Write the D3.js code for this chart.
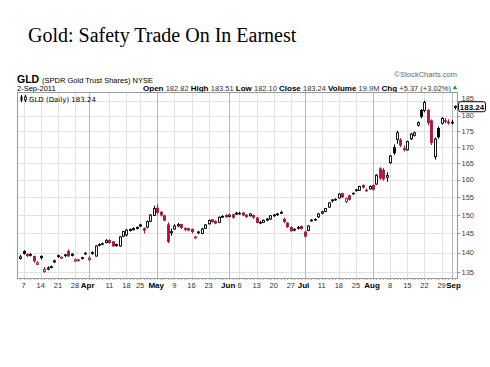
<!DOCTYPE html>
<html>
<head>
<meta charset="utf-8">
<script src="https://cdn.jsdelivr.net/npm/d3@7"></script>
<style>
  body { margin: 0; background: #fff; }
  svg { display: block; }
</style>
</head>
<body>
<div id="chart"></div>
<script>
// GLD daily candles, 4-Mar-2011 .. 2-Sep-2011
const dates = [
  '2011-03-04','2011-03-07','2011-03-08','2011-03-09','2011-03-10','2011-03-11','2011-03-14','2011-03-15','2011-03-16','2011-03-17',
  '2011-03-18','2011-03-21','2011-03-22','2011-03-23','2011-03-24','2011-03-25','2011-03-28','2011-03-29','2011-03-30','2011-03-31',
  '2011-04-01','2011-04-04','2011-04-05','2011-04-06','2011-04-07','2011-04-08','2011-04-11','2011-04-12','2011-04-13','2011-04-14',
  '2011-04-15','2011-04-18','2011-04-19','2011-04-20','2011-04-21','2011-04-25','2011-04-26','2011-04-27','2011-04-28','2011-04-29',
  '2011-05-02','2011-05-03','2011-05-04','2011-05-05','2011-05-06','2011-05-09','2011-05-10','2011-05-11','2011-05-12','2011-05-13',
  '2011-05-16','2011-05-17','2011-05-18','2011-05-19','2011-05-20','2011-05-23','2011-05-24','2011-05-25','2011-05-26','2011-05-27',
  '2011-05-31','2011-06-01','2011-06-02','2011-06-03','2011-06-06','2011-06-07','2011-06-08','2011-06-09','2011-06-10','2011-06-13',
  '2011-06-14','2011-06-15','2011-06-16','2011-06-17','2011-06-20','2011-06-21','2011-06-22','2011-06-23','2011-06-24','2011-06-27',
  '2011-06-28','2011-06-29','2011-06-30','2011-07-01','2011-07-05','2011-07-06','2011-07-07','2011-07-08','2011-07-11','2011-07-12',
  '2011-07-13','2011-07-14','2011-07-15','2011-07-18','2011-07-19','2011-07-20','2011-07-21','2011-07-22','2011-07-25','2011-07-26',
  '2011-07-27','2011-07-28','2011-07-29','2011-08-01','2011-08-02','2011-08-03','2011-08-04','2011-08-05','2011-08-08','2011-08-09',
  '2011-08-10','2011-08-11','2011-08-12','2011-08-15','2011-08-16','2011-08-17','2011-08-18','2011-08-19','2011-08-22','2011-08-23',
  '2011-08-24','2011-08-25','2011-08-26','2011-08-29','2011-08-30','2011-08-31','2011-09-01','2011-09-02'
]
const opens = [
  138.5,140.3,139.5,139.5,139.0,137.0,139.0,135.2,135.8,136.2,
  137.6,139.2,138.8,139.4,140.3,139.6,137.8,138.0,138.7,139.7,
  138.2,140.0,139.1,141.9,142.2,142.6,143.2,142.8,142.1,141.7,
  144.3,144.6,145.8,146.0,146.3,147.3,146.3,146.7,148.3,149.9,
  151.9,150.8,149.8,147.3,145.2,146.2,147.0,147.4,146.4,146.3,
  146.1,143.8,145.2,145.0,146.4,147.6,148.7,148.3,148.0,149.4,
  149.9,149.6,150.1,150.5,150.3,150.6,150.0,149.8,149.9,149.2,
  147.8,148.0,148.6,148.9,149.8,150.1,150.5,148.8,147.8,146.6,
  145.9,146.4,146.9,145.4,145.8,148.4,148.7,149.5,150.5,151.0,
  152.2,154.0,154.3,154.8,156.0,153.8,155.4,156.0,156.9,157.0,
  158.4,157.0,157.4,158.4,158.8,163.3,162.8,160.8,165.2,169.8,
  172.4,172.2,169.2,169.1,172.6,173.7,177.0,181.8,181.8,181.8,
  178.4,167.0,175.9,177.6,178.4,178.0,177.7,182.82
]
const highs = [
  139.4,140.6,139.8,139.9,139.2,137.8,139.3,136.3,136.5,136.7,
  138.2,139.5,139.0,139.6,140.8,139.8,138.5,138.4,138.9,140.2,
  139.1,140.3,141.9,142.4,142.6,143.5,143.4,143.0,142.3,144.3,
  145.7,146.2,146.3,146.7,146.9,147.6,146.6,148.5,150.3,152.6,
  153.0,151.0,150.0,148.0,146.3,147.5,147.8,147.6,146.6,146.5,
  146.3,144.4,145.7,146.5,147.5,148.8,148.9,148.5,149.6,150.0,
  150.2,150.3,150.3,150.9,150.9,150.7,150.2,150.5,150.1,149.4,
  148.4,148.8,149.2,150.0,150.3,150.6,151.2,149.3,148.0,146.9,
  146.4,147.0,147.1,145.6,147.2,148.9,149.1,150.6,151.2,152.0,
  153.6,154.5,154.7,156.2,156.3,154.9,155.7,156.4,157.4,158.3,
  158.7,157.5,158.4,158.6,161.7,163.8,163.6,162.3,167.6,170.8,
  175.2,172.8,170.5,172.0,174.5,174.9,178.2,182.3,185.1,182.4,
  178.8,173.0,176.5,179.6,179.3,178.9,178.7,183.51
]
const lows = [
  138.2,139.5,138.8,139.0,137.4,136.8,138.2,134.9,135.5,136.0,
  137.3,138.6,138.3,138.8,139.0,139.0,137.6,137.7,138.2,139.4,
  137.8,139.4,139.0,141.6,141.9,142.4,142.3,141.5,141.5,141.5,
  144.0,144.2,145.5,145.8,146.1,146.7,145.0,146.4,148.0,149.7,
  150.2,149.6,148.3,142.4,144.4,146.0,146.7,146.2,145.6,145.6,
  145.0,143.6,144.8,144.8,146.2,147.4,147.9,147.5,147.9,149.2,
  149.3,149.4,149.0,150.0,150.1,149.7,149.2,149.6,149.0,147.7,
  147.5,147.8,148.3,148.7,149.5,149.8,150.3,147.8,146.5,145.5,
  145.6,146.1,146.0,143.9,145.6,148.2,148.4,149.2,150.2,150.8,
  152.0,153.5,154.0,154.6,154.8,153.4,154.1,155.8,156.6,156.8,
  157.5,156.6,157.2,156.9,158.6,160.0,159.8,159.5,164.8,167.5,
  171.0,170.0,168.6,168.9,172.2,173.3,176.5,179.2,181.2,176.9,
  170.6,166.1,172.6,177.2,177.5,177.1,177.2,182.10
]
const closes = [
  138.9,139.8,139.2,139.3,137.9,137.4,138.7,135.7,136.1,136.4,
  137.9,139.0,138.6,139.3,139.1,139.3,138.2,138.1,138.5,139.8,
  138.6,139.8,141.7,142.1,142.3,143.1,142.6,141.7,141.8,144.1,
  145.5,145.9,146.1,146.3,146.6,147.0,145.9,148.2,150.0,151.8,
  150.7,150.0,148.6,142.9,145.5,147.0,147.4,146.6,146.1,145.9,
  145.5,144.1,145.4,146.2,147.3,148.5,148.2,147.8,149.4,149.6,
  149.5,150.0,149.4,150.3,150.5,150.0,149.6,150.3,149.4,148.0,
  148.0,148.5,148.9,149.8,150.0,150.3,150.7,148.2,146.8,145.7,
  146.1,146.6,146.3,144.3,147.0,148.6,148.8,150.3,150.9,151.8,
  153.4,154.2,154.4,155.9,155.1,154.6,154.4,156.1,157.1,158.1,
  157.9,156.9,158.1,157.3,161.4,160.6,160.3,161.3,167.2,168.2,
  174.5,170.6,169.5,171.7,174.1,174.5,177.8,179.8,184.5,177.8,
  171.4,172.5,173.2,179.2,178.2,177.7,177.87,183.24
]
const priceTicks = [135, 140, 145, 150, 155, 160, 165, 170, 175, 180, 185]
const monthNames = ['Jan','Feb','Mar','Apr','May','Jun','Jul','Aug','Sep','Oct','Nov','Dec']

const W = 490, H = 367
const plot = { left: 17, right: 457, top: 92, bottom: 278 }
const red = '#b3133f'

const parse = d3.timeParse('%Y-%m-%d')
const rows = dates.map((d, i) => ({
  key: d, date: parse(d), open: opens[i], high: highs[i], low: lows[i], close: closes[i]
}))
rows.forEach((r, i) => {
  const prev = i > 0 ? rows[i - 1].close : r.close
  r.color = r.close < prev ? red : '#000'
  r.hollow = r.close > r.open
})

const svg = d3.select('#chart').append('svg')
  .attr('width', W).attr('height', H)
  .attr('xmlns', 'http://www.w3.org/2000/svg')

const x = d3.scaleBand().domain(dates).range([plot.left + 1.5, plot.right])
const cx = d => x(d.key) + x.bandwidth() / 2
const y = d3.scaleLog().domain([133.6, 188.1]).range([plot.bottom, plot.top])

// title
svg.append('text')
  .attr('x', 28).attr('y', 42)
  .style('font-family', '"Liberation Serif", "Times New Roman", serif')
  .style('font-size', '20px')
  .text('Gold: Safety Trade On In Earnest')

// header
const sans = '"Liberation Sans", Arial, sans-serif'
const head = svg.append('text').attr('x', plot.left).attr('y', 82.5).style('font-family', sans)
head.append('tspan').style('font-size', '10.5px').style('font-weight', 'bold').text('GLD ')
head.append('tspan').style('font-size', '7.5px').text('(SPDR Gold Trust Shares) NYSE')

svg.append('text')
  .attr('x', plot.right).attr('y', 77).attr('text-anchor', 'end')
  .style('font-family', sans).style('font-size', '7.5px').style('fill', '#666')
  .text('\u00a9StockCharts.com')

svg.append('text')
  .attr('x', plot.left).attr('y', 90.5)
  .style('font-family', sans).style('font-size', '7.5px')
  .text('2-Sep-2011')

const last = rows[rows.length - 1]
const prevClose = rows[rows.length - 2].close
const chg = last.close - prevClose
const quote = svg.append('text')
  .attr('x', plot.right - 6).attr('y', 90.5).attr('text-anchor', 'end')
  .style('font-family', sans)
const pairs = [
  ['Open', last.open.toFixed(2)], ['High', last.high.toFixed(2)], ['Low', last.low.toFixed(2)],
  ['Close', last.close.toFixed(2)], ['Volume', '19.9M'],
  ['Chg', '+' + chg.toFixed(2) + ' (+' + (chg / prevClose * 100).toFixed(2) + '%)']
]
pairs.forEach(([k, v], i) => {
  quote.append('tspan').style('font-size', '8px').style('font-weight', 'bold').text(k + ' ')
  quote.append('tspan').style('font-size', '7.5px').style('fill', '#333').text(v + (i < pairs.length - 1 ? ' ' : ''))
})
svg.append('path')
  .attr('d', d3.symbol(d3.symbolTriangle, 9)())
  .attr('transform', `translate(${plot.right - 2},${88})`)
  .attr('fill', '#2a9a2a')

// grid
const grid = svg.append('g')
grid.selectAll('line.h').data(priceTicks).join('line')
  .attr('x1', plot.left).attr('x2', plot.right)
  .attr('y1', d => Math.round(y(d)) + 0.5).attr('y2', d => Math.round(y(d)) + 0.5)
  .attr('stroke', '#e2e2e2')

// date ticks: first trading day of each week and of each month
const week = d3.timeFormat('%G-%V')
const monthIdx = [], weekIdx = []
rows.forEach((r, i) => {
  if (i === 0) return
  const p = rows[i - 1]
  if (r.date.getMonth() !== p.date.getMonth()) monthIdx.push(i)
  else if (week(r.date) !== week(p.date)) weekIdx.push(i)
})
const weekKeep = weekIdx.filter(i => !monthIdx.some(m => Math.abs(m - i) <= 1))
const ticks = weekKeep.map(i => ({ i, month: false }))
  .concat(monthIdx.map(i => ({ i, month: true })))
  .sort((a, b) => a.i - b.i)

grid.selectAll('line.v').data(ticks).join('line')
  .attr('x1', d => Math.round(cx(rows[d.i])) + 0.5).attr('x2', d => Math.round(cx(rows[d.i])) + 0.5)
  .attr('y1', plot.top).attr('y2', plot.bottom)
  .attr('stroke', d => d.month ? '#b8b8b8' : '#e2e2e2')

// frame
svg.append('rect')
  .attr('x', plot.left + 0.5).attr('y', plot.top + 0.5)
  .attr('width', plot.right - plot.left).attr('height', plot.bottom - plot.top)
  .attr('fill', 'none').attr('stroke', '#999')

// day ticks along the bottom
svg.append('g').selectAll('line').data(rows).join('line')
  .attr('x1', d => Math.round(cx(d)) + 0.5).attr('x2', d => Math.round(cx(d)) + 0.5)
  .attr('y1', plot.bottom).attr('y2', plot.bottom + 2)
  .attr('stroke', '#aaa')

// x labels (pushed right when they would run into the previous one)
const xl = svg.append('g').selectAll('text').data(ticks).join('text')
  .attr('x', d => cx(rows[d.i]) + (d.month ? -1 : 0))
  .attr('y', 288)
  .attr('text-anchor', 'middle')
  .style('font-family', sans)
  .style('font-size', d => d.month ? '8px' : '7.5px')
  .style('font-weight', d => d.month ? 'bold' : 'normal')
  .style('fill', d => d.month ? '#000' : '#333')
  .text(d => d.month ? monthNames[rows[d.i].date.getMonth()] : rows[d.i].date.getDate())
let prevEnd = -Infinity
xl.each(function () {
  const w = this.getComputedTextLength()
  let c = +this.getAttribute('x')
  if (c - w / 2 < prevEnd + 0.5) c = prevEnd + 0.5 + w / 2
  this.setAttribute('x', c)
  prevEnd = c + w / 2
})

// y axis on the right
const yAxis = svg.append('g').attr('transform', `translate(${plot.right + 0.5},0)`)
yAxis.selectAll('line').data(priceTicks).join('line')
  .attr('x1', 0).attr('x2', 3)
  .attr('y1', d => Math.round(y(d)) + 0.5).attr('y2', d => Math.round(y(d)) + 0.5)
  .attr('stroke', '#999')
yAxis.selectAll('text').data(priceTicks).join('text')
  .attr('x', 4).attr('y', d => y(d) + (d === 185 ? 0 : 2.5))
  .style('font-family', sans).style('font-size', '7.5px').style('fill', '#444')
  .text(d => d)

// candles
const bw = 2
const candles = svg.append('g')
candles.selectAll('line').data(rows).join('line')
  .attr('x1', d => Math.round(cx(d)) + 0.5).attr('x2', d => Math.round(cx(d)) + 0.5)
  .attr('y1', d => y(d.high)).attr('y2', d => y(d.low))
  .attr('stroke', d => d.color)
candles.selectAll('rect').data(rows).join('rect')
  .attr('x', d => Math.round(cx(d)) + 0.5 - bw / 2)
  .attr('y', d => y(Math.max(d.open, d.close)))
  .attr('width', bw)
  .attr('height', d => Math.max(0.6, Math.abs(y(d.open) - y(d.close))))
  .attr('fill', d => d.hollow ? '#fff' : d.color)
  .attr('stroke', d => d.color)
  .attr('stroke-width', 0.9)

// legend
const lg = svg.append('g').attr('transform', `translate(${plot.left + 3},${plot.top + 2})`)
lg.append('line').attr('x1', 1.5).attr('x2', 1.5).attr('y1', 1).attr('y2', 8).attr('stroke', '#000')
lg.append('rect').attr('x', 0.5).attr('y', 2.5).attr('width', 2).attr('height', 4).attr('fill', '#000')
lg.append('line').attr('x1', 5.5).attr('x2', 5.5).attr('y1', 1).attr('y2', 8).attr('stroke', '#000')
lg.append('rect').attr('x', 4.5).attr('y', 3).attr('width', 2).attr('height', 3).attr('fill', '#fff').attr('stroke', '#000').attr('stroke-width', 0.8)
lg.append('text').attr('x', 9).attr('y', 7.5)
  .style('font-family', '"DejaVu Sans", Verdana, sans-serif').style('font-size', '7px')
  .text('GLD (Daily) ' + last.close.toFixed(2))

// last price tag
const ly = y(last.close)
svg.append('rect')
  .attr('x', plot.right + 1.5).attr('y', ly - 4.5).attr('width', 27).attr('height', 10).attr('rx', 2)
  .attr('fill', '#fff').attr('stroke', '#000')
svg.append('text')
  .attr('x', plot.right + 15).attr('y', ly + 3.5).attr('text-anchor', 'middle')
  .style('font-family', sans).style('font-size', '8px').style('font-weight', 'bold')
  .text(last.close.toFixed(2))
</script>
</body>
</html>
